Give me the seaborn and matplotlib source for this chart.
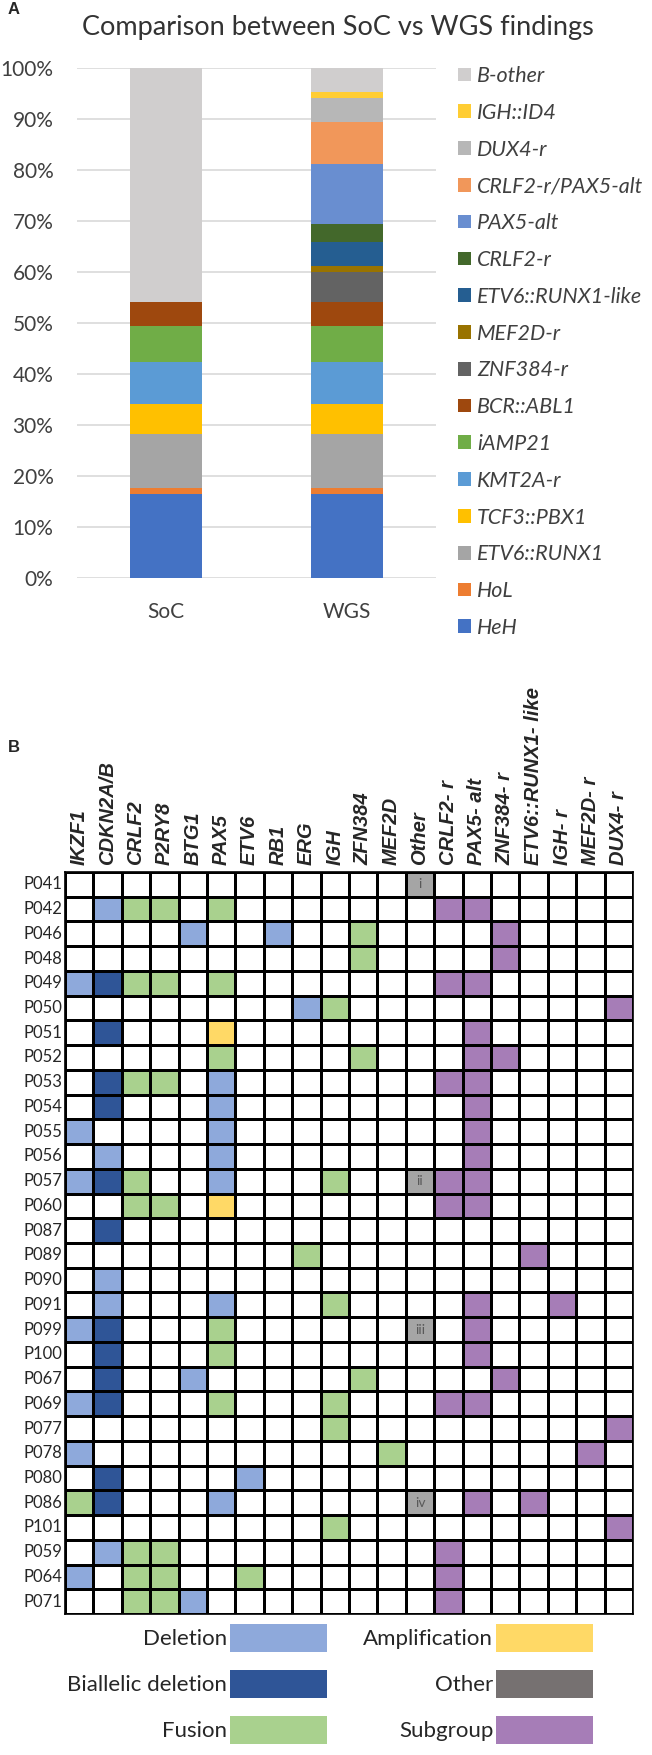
import numpy as np
import matplotlib
matplotlib.use("Agg")
import matplotlib.pyplot as plt
from matplotlib import font_manager
from matplotlib.colors import ListedColormap
from matplotlib.patches import Patch
import seaborn as sns

# ---- panel A data: number of patients per subtype (N = 85) ----
N_PATIENTS = 85
METHODS = ["SoC", "WGS"]
SUBTYPES = ["HeH", "HoL", "ETV6::RUNX1", "TCF3::PBX1", "KMT2A-r", "iAMP21",
            "BCR::ABL1", "ZNF384-r", "MEF2D-r", "ETV6::RUNX1-like", "CRLF2-r",
            "PAX5-alt", "CRLF2-r/PAX5-alt", "DUX4-r", "IGH::ID4", "B-other"]
SOC_COUNTS = [14, 1, 9, 5, 7, 6, 4, 0, 0, 0, 0, 0, 0, 0, 0, 39]
WGS_COUNTS = [14, 1, 9, 5, 7, 6, 4, 5, 1, 4, 3, 10, 7, 4, 1, 4]
SUBTYPE_COLORS = ["#4472C4", "#ED7D31", "#A5A5A5", "#FFC000", "#5B9BD5", "#70AD47",
                  "#9E480E", "#636363", "#997300", "#255E91", "#43682B",
                  "#698ED0", "#F1975A", "#B7B7B7", "#FFCD33", "#D0CECE"]

# ---- panel B data ----
GENES = ["IKZF1", "CDKN2A/B", "CRLF2", "P2RY8", "BTG1", "PAX5", "ETV6", "RB1",
         "ERG", "IGH", "ZFN384", "MEF2D", "Other", "CRLF2- r", "PAX5- alt",
         "ZNF384- r", "ETV6::RUNX1- like", "IGH- r", "MEF2D- r", "DUX4- r"]
PATIENTS = ["P041", "P042", "P046", "P048", "P049", "P050", "P051", "P052", "P053",
            "P054", "P055", "P056", "P057", "P060", "P087", "P089", "P090", "P091",
            "P099", "P100", "P067", "P069", "P077", "P078", "P080", "P086", "P101",
            "P059", "P064", "P071"]
# one string per patient, one char per gene column
# . none, D deletion, B biallelic deletion, F fusion, A amplification, O other, S subgroup
EVENTS = [
    "............O.......",  # P041
    ".DFF.F.......SS.....",  # P042
    "....D..D..F....S....",  # P046
    "..........F....S....",  # P048
    "DBFF.F.......SS.....",  # P049
    "........DF.........S",  # P050
    ".B...A........S.....",  # P051
    ".....F....F...SS....",  # P052
    ".BFF.D.......SS.....",  # P053
    ".B...D........S.....",  # P054
    "D....D........S.....",  # P055
    ".D...D........S.....",  # P056
    "DBF..D...F..OSS.....",  # P057
    "..FF.A.......SS.....",  # P060
    ".B..................",  # P087
    "........F.......S...",  # P089
    ".D..................",  # P090
    ".D...D...F....S..S..",  # P091
    "DB...F......O.S.....",  # P099
    ".B...F........S.....",  # P100
    ".B..D.....F....S....",  # P067
    "DB...F...F...SS.....",  # P069
    ".........F.........S",  # P077
    "D..........F......S.",  # P078
    ".B....D.............",  # P080
    "FB...D......O.S.S...",  # P086
    ".........F.........S",  # P101
    ".DFF.........S......",  # P059
    "D.FF..F......S......",  # P064
    "..FFD........S......",  # P071
]
OTHER_NOTES = {"P041": "i", "P057": "ii", "P099": "iii", "P086": "iv"}

EVENT_CODES = ".DBFAOS"
EVENT_COLORS = ["#FFFFFF", "#8EA9DB", "#2F5597", "#A9D18E", "#FFD966", "#A5A5A5", "#A67DB7"]
LEGEND_LABELS = ["Deletion", "Biallelic deletion", "Fusion", "Amplification", "Other", "Subgroup"]
LEGEND_COLORS = ["#8EA9DB", "#2F5597", "#A9D18E", "#FFD966", "#767171", "#A67DB7"]

sns.set_style("white")
plt.rcParams["font.family"] = ["Lato", "DejaVu Sans"]

# narrow font for the patient ids if it is there
installed = {f.name for f in font_manager.fontManager.ttflist}
if "Liberation Sans Narrow" in installed:
    ROW_FONT, ROW_SIZE = "Liberation Sans Narrow", 12.5
else:
    ROW_FONT, ROW_SIZE = "Lato", 12

W, H = 652, 1755
fig = plt.figure(figsize=(W / 100, H / 100), dpi=100)


def frac(x0, y0, x1, y1):
    # pixel box -> figure fraction rect
    return [x0 / W, 1 - y1 / H, (x1 - x0) / W, (y1 - y0) / H]


# ================= panel A =================
ax = fig.add_axes(frac(77, 68, 436, 578))
ax.set_axisbelow(True)
ax.yaxis.grid(True, color="#D9D9D9", lw=1.2)

bottom = np.zeros(len(METHODS))
for name, soc, wgs, color in zip(SUBTYPES, SOC_COUNTS, WGS_COUNTS, SUBTYPE_COLORS):
    pct = np.array([soc, wgs]) / N_PATIENTS * 100
    sns.barplot(x=METHODS, y=pct, bottom=bottom, color=color, saturation=1,
                width=0.4, linewidth=0, label=name, ax=ax)
    bottom += pct

ax.set_ylim(0, 100)
ax.set_xlim(-0.49, 1.49)
ax.set_yticks(np.arange(0, 101, 10))
ax.set_yticklabels([f"{v}%" for v in range(0, 101, 10)])
ax.tick_params(axis="y", length=0, pad=17, labelsize=15, labelcolor="#404040")
ax.tick_params(axis="x", length=0, pad=17, labelsize=15, labelcolor="#404040")
ax.set_xlabel("")
ax.set_ylabel("")
for s in ax.spines.values():
    s.set_visible(False)

handles, labels = ax.get_legend_handles_labels()
leg = ax.legend(handles[::-1], labels[::-1], loc="upper left",
                bbox_to_anchor=(458 / W, 1 - 66 / H), bbox_transform=fig.transFigure,
                frameon=False, prop={"size": 15.5, "style": "italic"},
                handlelength=0.6, handleheight=0.6, handletextpad=0.28,
                labelspacing=0.78, borderpad=0, borderaxespad=0)
for t in leg.get_texts():
    t.set_color("#404040")

fig.text(338 / W, 1 - 28 / H, "Comparison between SoC vs WGS findings",
         ha="center", va="center", fontsize=19.5, color="#333333")
fig.text(8 / W, 1 - 10 / H, "A", ha="left", va="center", fontsize=12,
         fontweight="bold", family="Liberation Sans")

# ================= panel B =================
codes = np.array([[EVENT_CODES.index(c) for c in row] for row in EVENTS])
notes = np.full(codes.shape, "", dtype=object)
other_col = GENES.index("Other")
for pid, note in OTHER_NOTES.items():
    notes[PATIENTS.index(pid), other_col] = note

ax2 = fig.add_axes(frac(65, 872, 633, 1614))
sns.heatmap(codes, cmap=ListedColormap(EVENT_COLORS), vmin=-0.5, vmax=6.5,
            cbar=False, linewidths=1.0, linecolor="black",
            annot=notes, fmt="", annot_kws={"color": "#595959", "fontsize": 10},
            xticklabels=GENES, yticklabels=PATIENTS, ax=ax2)
ax2.xaxis.tick_top()
ax2.set_xticklabels(GENES, rotation=90, ha="center", va="bottom",
                    fontsize=14.5, fontweight="bold", style="italic",
                    family="Liberation Sans")
ax2.set_yticklabels(PATIENTS, rotation=0, fontsize=ROW_SIZE, family=ROW_FONT)
ax2.tick_params(axis="x", length=0, pad=5)
ax2.tick_params(axis="y", length=0, pad=2)
for s in ax2.spines.values():
    s.set_visible(True)
    s.set_color("black")
    s.set_linewidth(1.2)

fig.text(8 / W, 1 - 748 / H, "B", ha="left", va="center", fontsize=12,
         fontweight="bold", family="Liberation Sans")

leg_handles = [Patch(facecolor=c, edgecolor="none") for c in LEGEND_COLORS]
fig.legend(leg_handles, LEGEND_LABELS, ncol=2, markerfirst=False,
           loc="upper right", bbox_to_anchor=(593 / W, 1 - 1624 / H),
           frameon=False, fontsize=16, handlelength=4.37, handleheight=1.58,
           handletextpad=0.12, labelspacing=0.79, columnspacing=1.64,
           borderpad=0, borderaxespad=0)

fig.savefig("out.png", dpi=100)
